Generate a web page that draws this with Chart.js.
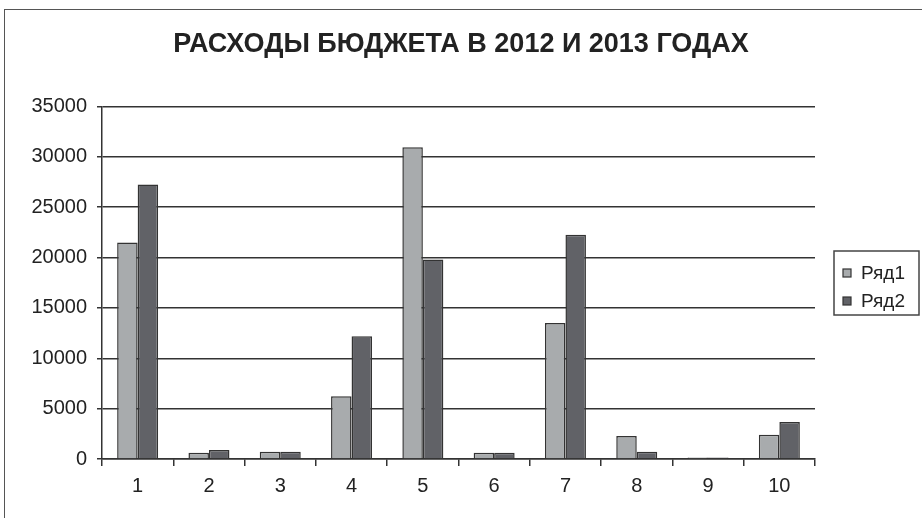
<!DOCTYPE html>
<html>
<head>
<meta charset="utf-8">
<script src="https://cdn.jsdelivr.net/npm/chart.js@4"></script>
<style>
  body { margin: 0; background: #fff; }
  #wrap { position: relative; width: 922px; height: 518px; overflow: hidden; }
  #frame { position: absolute; left: 4px; top: 9px; width: 940px; height: 540px; border: 1.5px solid #555; }
  canvas { position: absolute; left: 0; top: 0; }
</style>
</head>
<body>
<div id="wrap">
  <div id="frame"></div>
  <canvas id="budgetChart" width="922" height="518"></canvas>
</div>
<script>
const categories = ["1", "2", "3", "4", "5", "6", "7", "8", "9", "10"];
const series1 = [21500, 620, 720, 6240, 30950, 620, 13500, 2280, 150, 2410];
const series2 = [27250, 890, 720, 12190, 19800, 620, 22270, 720, 150, 3670];
const seriesNames = ["Ряд1", "Ряд2"];
const yMax = 35000;
const yStep = 5000;

const FONT = "'Liberation Sans', Arial, sans-serif";

// legend in a framed box to the right of the plot
const boxLegend = {
  id: "boxLegend",
  afterDraw(chart) {
    const ctx = chart.ctx;
    const x = chart.chartArea.right + 19, y = 251, w = 85, h = 64;
    ctx.save();
    ctx.strokeStyle = "#444";
    ctx.lineWidth = 1.5;
    ctx.strokeRect(x, y, w, h);
    ctx.font = "19px " + FONT;
    ctx.textBaseline = "middle";
    chart.data.datasets.forEach((ds, i) => {
      const cy = y + 22 + i * 28;
      ctx.fillStyle = ds.backgroundColor;
      ctx.fillRect(x + 9, cy - 4, 8, 8);
      ctx.strokeStyle = "#333";
      ctx.lineWidth = 1.2;
      ctx.strokeRect(x + 9, cy - 4, 8, 8);
      ctx.fillStyle = "#222";
      ctx.fillText(ds.label, x + 27, cy + 1);
    });
    ctx.restore();
  },
};

const ctx = document.getElementById("budgetChart").getContext("2d");
new Chart(ctx, {
  type: "bar",
  data: {
    labels: categories,
    datasets: [
      {
        label: seriesNames[0],
        data: series1,
        backgroundColor: "#a8abad",
        borderColor: "#333",
        borderWidth: 1.5,
      },
      {
        label: seriesNames[1],
        data: series2,
        backgroundColor: "#616267",
        borderColor: "#333",
        borderWidth: 1.5,
      },
    ],
  },
  options: {
    responsive: false,
    animation: false,
    layout: { padding: 0 },
    categoryPercentage: 0.575,
    barPercentage: 1,
    scales: {
      x: {
        grid: { display: true, drawOnChartArea: false, drawTicks: true, tickLength: 7, color: "#333", lineWidth: 1.5 },
        border: { color: "#333", width: 1.5 },
        ticks: { color: "#222", font: { family: FONT, size: 20 }, padding: 8 },
        afterFit(scale) { scale.height = 59; },
      },
      y: {
        min: 0,
        max: yMax,
        ticks: {
          stepSize: yStep,
          color: "#222",
          font: { family: FONT, size: 20 },
          padding: 10,
          callback: (v) => String(v),
        },
        grid: { color: "#333", lineWidth: 1.5, tickLength: 5 },
        border: { color: "#333", width: 1.5 },
        afterFit(scale) { scale.width = 102; },
      },
      // empty right-hand axis keeps room for the legend box
      side: {
        position: "right",
        display: true,
        grid: { display: false },
        border: { display: false },
        ticks: { display: false },
        afterFit(scale) { scale.width = 107; },
      },
    },
    plugins: {
      legend: { display: false },
      tooltip: { enabled: false },
      title: {
        display: true,
        text: "РАСХОДЫ БЮДЖЕТА В 2012 И 2013 ГОДАХ",
        color: "#222",
        font: { family: FONT, size: 27, weight: "bold" },
        padding: { top: 28, bottom: 46 },
      },
    },
  },
  plugins: [boxLegend],
});
</script>
</body>
</html>
